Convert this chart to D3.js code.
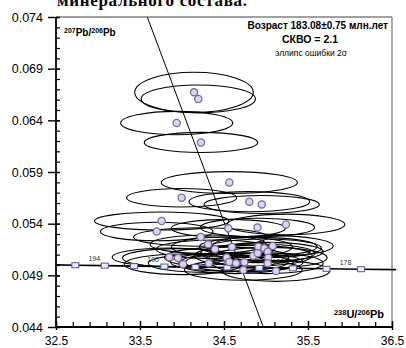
<!DOCTYPE html>
<html><head><meta charset="utf-8">
<script src="https://cdn.jsdelivr.net/npm/d3@7/dist/d3.min.js"></script>
<style>
body{margin:0;background:#fff;}
svg{display:block;font-family:"Liberation Sans",Arial,sans-serif;}
</style></head>
<body><svg id="c" width="406" height="348"></svg>
<script>
// 238U/206Pb centres
const ratioU = [34.143,34.194,33.937,34.226,34.563,33.996,34.801,34.949,33.758,34.551,
  34.899,35.238,33.699,34.223,34.310,34.393,34.595,34.908,34.980,35.080,
  35.020,34.849,34.901,35.027,33.849,33.952,34.012,34.319,34.532,34.563,
  34.643,34.742,35.020,34.730,35.119];
// 207Pb/206Pb centres
const ratioPb = [0.06671,0.06607,0.06374,0.06186,0.05798,0.05651,0.05613,0.05586,0.05426,0.05355,
  0.05363,0.05392,0.05324,0.05271,0.05200,0.05152,0.05174,0.05177,0.05162,0.05184,
  0.05129,0.05090,0.05113,0.05071,0.05075,0.05068,0.05007,0.05017,0.05073,0.05029,
  0.05017,0.05026,0.05017,0.04952,0.04942];
// 2-sigma half axes
const errU = [0.706,0.68,0.667,0.675,0.81,0.655,0.718,0.686,0.80,0.68,
  0.68,0.70,0.67,0.80,0.69,0.70,0.72,0.70,0.68,0.72,
  0.66,0.70,0.68,0.70,0.68,0.66,0.70,0.72,0.74,0.70,
  0.68,0.70,0.66,0.70,0.64];
const errPb = [0.00194,0.00135,0.00113,0.00097,0.00106,0.00089,0.00097,0.00087,0.00087,0.00087,
  0.0009,0.0010,0.0009,0.0009,0.0009,0.0009,0.0010,0.0009,0.0009,0.0010,
  0.0009,0.0010,0.0009,0.0010,0.0009,0.0009,0.0010,0.0009,0.0010,0.0009,
  0.0010,0.0009,0.0010,0.0010,0.0010];
// concordia age markers (Ma)
const concAges = [194,192,190,188,186,184,182,180,178,176];
const concU = [32.73,33.08,33.43,33.79,34.16,34.54,34.92,35.32,35.72,36.13];
const concPb = [0.04998,0.04994,0.04989,0.04985,0.04981,0.04976,0.04972,0.04968,0.04963,0.04959];
const concLabels = [194,190,186,182,178];
const concEnds = [[32.5,0.05001],[36.55,0.04955]];
// regression line
const regLine = [[33.587,0.074],[34.968,0.044]];
// ticks
const xMajor = [32.5,33.5,34.5,35.5,36.5];
const xMinor = d3.range(0,21).map(i=>32.5+i*0.2);
const yMajor = [0.044,0.049,0.054,0.059,0.064,0.069,0.074];
const yMinor = d3.range(0,31).map(i=>0.044+i*0.001);

const svg = d3.select("#c");
const L=56,R=392,T=17,B=327;
const x = d3.scaleLinear().domain([32.5,36.5]).range([L,R]);
const y = d3.scaleLinear().domain([0.044,0.074]).range([B,T]);

// cut-off caption at top (clipped in the original too)
svg.append("text").attr("x",57).attr("y",6).attr("font-family","Liberation Serif, serif")
  .attr("font-weight","bold").attr("font-size",17).attr("textLength",190)
  .text("минерального состава.");

svg.append("defs").append("clipPath").attr("id","pc").append("rect")
  .attr("x",L).attr("y",T).attr("width",R-L+6).attr("height",B-T);

// frame top/right
svg.append("line").attr("x1",L).attr("x2",R).attr("y1",T).attr("y2",T).attr("stroke","#808080").attr("stroke-width",1.3);
svg.append("line").attr("x1",R).attr("x2",R).attr("y1",T).attr("y2",B).attr("stroke","#808080").attr("stroke-width",1.3);

const g = svg.append("g");
// ellipses
g.selectAll("ellipse.e").data(ratioU).join("ellipse").attr("class","e")
  .attr("cx",(d,i)=>x(d)).attr("cy",(d,i)=>y(ratioPb[i]))
  .attr("rx",(d,i)=>x(d+errU[i])-x(d)).attr("ry",(d,i)=>y(ratioPb[i])-y(ratioPb[i]+errPb[i]))
  .attr("fill","none").attr("stroke","#000").attr("stroke-width",1.1);

// concordia
const lineGen = d3.line().x(d=>x(d[0])).y(d=>y(d[1]));
const concPts = [concEnds[0]].concat(concU.map((u,i)=>[u,concPb[i]])).concat([concEnds[1]]);
g.append("path").attr("d",lineGen(concPts)).attr("fill","none").attr("stroke","#000").attr("stroke-width",1.6);
g.selectAll("rect.cm").data(concU).join("rect").attr("class","cm")
  .attr("x",d=>x(d)-3.5).attr("y",(d,i)=>y(concPb[i])-2.5).attr("width",7).attr("height",5)
  .attr("fill","#eeeef8").attr("stroke","#5555aa").attr("stroke-width",1);
g.selectAll("text.cl").data(concLabels).join("text").attr("class","cl")
  .attr("x",d=>x(concU[concAges.indexOf(d)])+19).attr("y",d=>y(concPb[concAges.indexOf(d)])-4)
  .attr("text-anchor","middle").attr("font-size",7).attr("fill","#333").text(d=>d);

// regression
g.append("path").attr("d",lineGen(regLine)).attr("clip-path","url(#pc)")
  .attr("fill","none").attr("stroke","#000").attr("stroke-width",1);

// points
g.selectAll("circle.p").data(ratioU).join("circle").attr("class","p")
  .attr("cx",d=>x(d)).attr("cy",(d,i)=>y(ratioPb[i])).attr("r",3.6)
  .attr("fill","#dcd4ec").attr("stroke","#7a6a9e").attr("stroke-width",1.3);

// axes
const ax = svg.append("g").attr("transform",`translate(0,${B})`)
  .call(d3.axisBottom(x).tickValues(xMinor).tickSize(0).tickFormat(""));
ax.select(".domain").remove();
ax.selectAll(".tick line").attr("y1",0).attr("y2",-5).attr("stroke","#000").attr("stroke-width",1.2);
const axM = svg.append("g").attr("transform",`translate(0,${B})`)
  .call(d3.axisBottom(x).tickValues(xMajor).tickSize(0).tickPadding(9).tickFormat(d3.format(".1f")));
axM.select(".domain").remove();
axM.selectAll(".tick line").attr("y1",3).attr("y2",-6).attr("stroke","#000").attr("stroke-width",1.4);
axM.selectAll("text").attr("font-size",12).attr("font-family","Liberation Sans, Arial, sans-serif").attr("fill","#000");

const ay = svg.append("g").attr("transform",`translate(${L},0)`)
  .call(d3.axisLeft(y).tickValues(yMinor).tickSize(0).tickFormat(""));
ay.select(".domain").remove();
ay.selectAll(".tick line").attr("x1",0).attr("x2",4).attr("stroke","#000").attr("stroke-width",1.2);
const ayM = svg.append("g").attr("transform",`translate(${L},0)`)
  .call(d3.axisLeft(y).tickValues(yMajor).tickSize(0).tickPadding(13).tickFormat(d3.format(".3f")));
ayM.select(".domain").remove();
ayM.selectAll(".tick line").attr("x1",-8).attr("x2",4).attr("stroke","#000").attr("stroke-width",1.4);
ayM.selectAll("text").attr("font-size",12.5).attr("font-family","Liberation Sans, Arial, sans-serif").attr("fill","#000");

svg.append("line").attr("x1",L).attr("x2",R).attr("y1",B).attr("y2",B).attr("stroke","#000").attr("stroke-width",1.8);
svg.append("line").attr("x1",L).attr("x2",L).attr("y1",T).attr("y2",B).attr("stroke","#000").attr("stroke-width",1.8);

// labels
const yl = svg.append("text").attr("x",64).attr("y",36).attr("font-weight","bold").attr("font-size",10);
yl.append("tspan").attr("font-size",7).attr("dy",-3).text("207");
yl.append("tspan").attr("dy",3).text("Pb/");
yl.append("tspan").attr("font-size",7).attr("dy",-3).text("206");
yl.append("tspan").attr("dy",3).text("Pb");

const xl = svg.append("text").attr("x",384).attr("y",318).attr("text-anchor","end").attr("font-weight","bold").attr("font-size",11);
xl.append("tspan").attr("font-size",7.5).attr("dy",-3).text("238");
xl.append("tspan").attr("dy",3).text("U/");
xl.append("tspan").attr("font-size",7.5).attr("dy",-3).text("206");
xl.append("tspan").attr("dy",3).text("Pb");

svg.append("text").attr("x",388).attr("y",29).attr("text-anchor","end").attr("font-weight","bold").attr("font-size",10)
  .text("Возраст 183.08±0.75 млн.лет");
svg.append("text").attr("x",310).attr("y",43).attr("text-anchor","middle").attr("font-weight","bold").attr("font-size",10.5)
  .text("СКВО = 2.1");
svg.append("text").attr("x",311).attr("y",56).attr("text-anchor","middle").attr("font-size",8.5)
  .text("эллипс ошибки 2σ");
</script></body></html>
